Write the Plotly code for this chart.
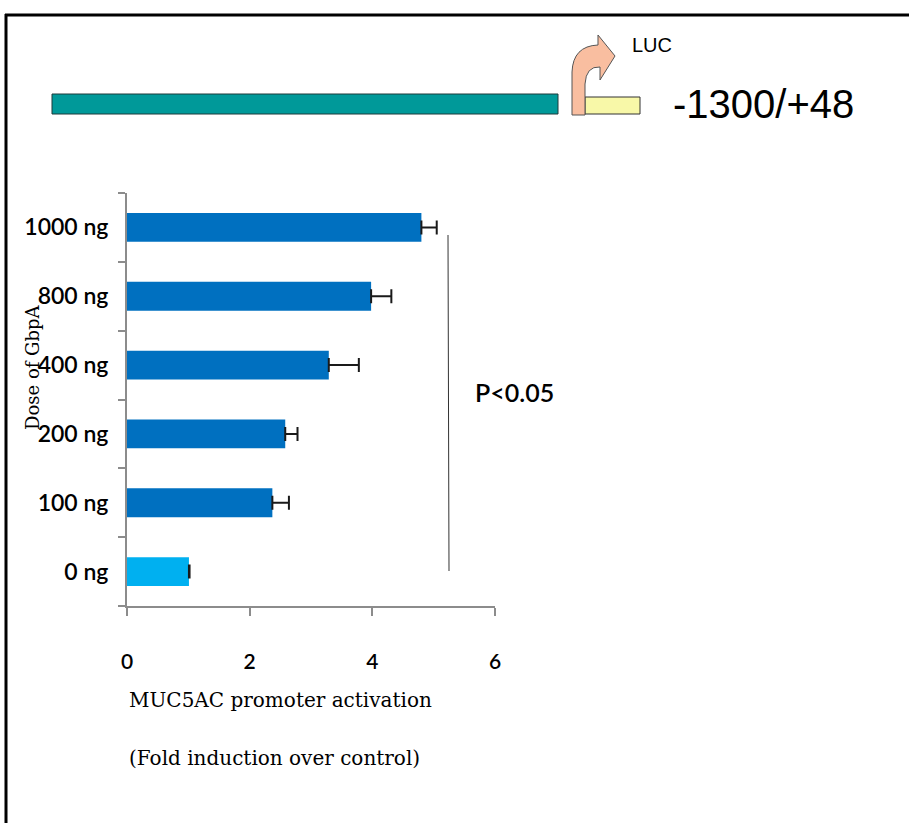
import plotly.graph_objects as go

# ---- data ----
doses = ["0 ng", "100 ng", "200 ng", "400 ng", "800 ng", "1000 ng"]
fold_induction = [1.01, 2.37, 2.58, 3.29, 3.98, 4.80]
error_plus = [0.01, 0.27, 0.20, 0.49, 0.33, 0.25]
bar_colors = ["#00B0F0", "#0070C0", "#0070C0", "#0070C0", "#0070C0", "#0070C0"]
x_ticks = [0, 2, 4, 6]

W, H = 909, 823
L, R, T, B = 127, 495, 193, 606  # plot area in pixels


def px(x):
    return (x - L) / (R - L)


def py(y):
    return (B - y) / (B - T)


NARROW = "Lato, Roboto, sans-serif"
SANS = "Liberation Sans, Arial, sans-serif"
SERIF = "DejaVu Serif, Liberation Serif, serif"

fig = go.Figure()
fig.add_trace(go.Bar(
    x=fold_induction,
    y=doses,
    orientation="h",
    marker=dict(color=bar_colors, line=dict(width=0)),
    error_x=dict(type="data", symmetric=False, array=error_plus,
                 arrayminus=[0] * len(error_plus),
                 color="#1a1a1a", thickness=2, width=7),
    showlegend=False,
))

axis_col = "#8c8c8c"
fig.update_layout(
    width=W, height=H,
    margin=dict(l=L, r=W - R, t=T, b=H - B, pad=0),
    paper_bgcolor="white", plot_bgcolor="white",
    bargap=0.58,
    xaxis=dict(range=[0, 6], tickvals=x_ticks, showgrid=False, zeroline=False,
               showline=True, linecolor=axis_col, linewidth=2,
               ticks="outside", ticklen=8, tickwidth=2, tickcolor=axis_col,
               tickfont=dict(family=NARROW, size=21, color="black", weight=600),
               ticklabelstandoff=28),
    yaxis=dict(type="category", categoryorder="array", categoryarray=doses,
               range=[-0.5, 5.5], showgrid=False, zeroline=False,
               showline=True, linecolor=axis_col, linewidth=2,
               ticks="outside", ticklen=7, tickwidth=2, tickcolor=axis_col,
               tickson="boundaries",
               tickfont=dict(family=NARROW, size=23, color="black", weight=600),
               ticklabelstandoff=12),
)


def P(x, y):
    return f"{px(x):.5f},{py(y):.5f}"


shapes = []
# frame lines (top and left)
shapes.append(dict(type="line", xref="paper", yref="paper",
                   x0=px(5), x1=px(909), y0=py(15), y1=py(15),
                   line=dict(color="black", width=3)))
shapes.append(dict(type="line", xref="paper", yref="paper",
                   x0=px(6), x1=px(6), y0=py(14), y1=py(823),
                   line=dict(color="black", width=3)))
# promoter bar (teal)
shapes.append(dict(type="rect", xref="paper", yref="paper",
                   x0=px(52), x1=px(558), y0=py(114), y1=py(94),
                   fillcolor="#009999", line=dict(color="#1f3b3b", width=1)))
# luciferase box (yellow)
shapes.append(dict(type="rect", xref="paper", yref="paper",
                   x0=px(585), x1=px(640), y0=py(114), y1=py(97),
                   fillcolor="#F8F8A8", line=dict(color="#333333", width=1)))
# bent arrow
path = (f"M {P(572,115)} L {P(572,72)} Q {P(573,46)} {P(598,45)} "
        f"L {P(598,35)} L {P(615,56)} L {P(600,80)} L {P(600,67)} "
        f"Q {P(586,66)} {P(585,84)} L {P(585,115)} Z")
shapes.append(dict(type="path", xref="paper", yref="paper", path=path,
                   fillcolor="#F9BEA0", line=dict(color="#555555", width=1)))
# significance line
shapes.append(dict(type="line", xref="paper", yref="paper",
                   x0=px(448), x1=px(449), y0=py(235), y1=py(571),
                   line=dict(color="#333333", width=1)))
fig.update_layout(shapes=shapes)

ann = []
ann.append(dict(text="LUC", xref="paper", yref="paper", x=px(630), y=py(45),
                xanchor="left", yanchor="middle", showarrow=False,
                font=dict(family=SANS, size=20, color="black")))
ann.append(dict(text="-1300/+48", xref="paper", yref="paper", x=px(671), y=py(104),
                xanchor="left", yanchor="middle", showarrow=False,
                font=dict(family=SANS, size=40, color="black")))
ann.append(dict(text="P<0.05", xref="paper", yref="paper", x=px(514), y=py(392),
                xanchor="center", yanchor="middle", showarrow=False,
                font=dict(family=NARROW, size=25, color="black", weight=600)))
ann.append(dict(text="Dose of GbpA", xref="paper", yref="paper", x=px(32), y=py(367),
                xanchor="center", yanchor="middle", showarrow=False, textangle=-90,
                font=dict(family=SERIF, size=18, color="black")))
ann.append(dict(text="MUC5AC promoter activation", xref="paper", yref="paper",
                x=px(127), y=py(700), xanchor="left", yanchor="middle", showarrow=False,
                font=dict(family=SERIF, size=20, color="black")))
ann.append(dict(text="(Fold induction over control)", xref="paper", yref="paper",
                x=px(127), y=py(758), xanchor="left", yanchor="middle", showarrow=False,
                font=dict(family=SERIF, size=20, color="black")))
fig.update_layout(annotations=ann)

fig.write_html("out.html", config={"displayModeBar": False},
               post_script="document.body.style.margin='0';")
